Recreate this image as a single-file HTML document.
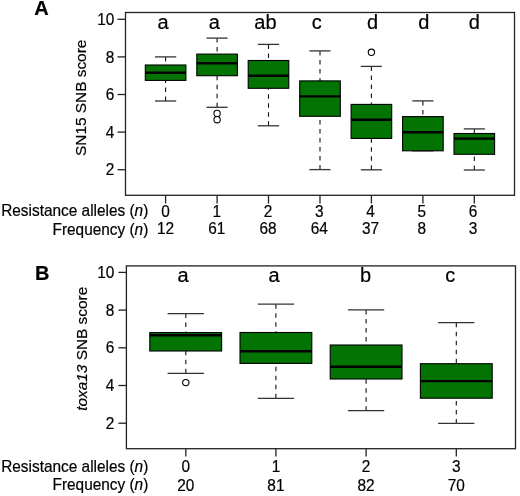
<!DOCTYPE html>
<html><head><meta charset="utf-8"><title>Boxplots</title>
<style>html,body{margin:0;padding:0;background:#fff;width:520px;height:496px;overflow:hidden}svg{display:block;will-change:transform}</style>
</head><body>
<svg width="520" height="496" viewBox="0 0 520 496">
<style>
text{font-family:"Liberation Sans",sans-serif;fill:#000;stroke:#000;stroke-width:0.2px}
.tl{font-size:16.0px}
.lt{font-size:20px}
.yl{font-size:15.4px}
.pl{font-size:20px;font-weight:bold}
.ax{stroke:#222;stroke-width:1.3;fill:none}
.wh{stroke:#111;stroke-width:1.1;stroke-dasharray:4.5 4.5;fill:none}
.cap{stroke:#333;stroke-width:1.3;fill:none}
.bx{fill:#037403;stroke:#000;stroke-width:1.1}
.md{stroke:#000;stroke-width:2.4}
.ol{fill:none;stroke:#000;stroke-width:1.1}
</style>
<rect width="520" height="496" fill="#fff"/>
<text x="34.2" y="15" class="pl">A</text>
<line x1="165.6" y1="56.9" x2="165.6" y2="65.0" class="wh"/>
<line x1="165.6" y1="101.0" x2="165.6" y2="80.4" class="wh"/>
<line x1="155.0" y1="56.9" x2="176.2" y2="56.9" class="cap"/>
<line x1="155.0" y1="101.0" x2="176.2" y2="101.0" class="cap"/>
<rect x="145.3" y="65.0" width="40.6" height="15.4" class="bx"/>
<line x1="145.3" y1="72.8" x2="185.9" y2="72.8" class="md"/>
<line x1="217.1" y1="38.1" x2="217.1" y2="54.1" class="wh"/>
<line x1="217.1" y1="107.3" x2="217.1" y2="75.7" class="wh"/>
<line x1="206.5" y1="38.1" x2="227.6" y2="38.1" class="cap"/>
<line x1="206.5" y1="107.3" x2="227.6" y2="107.3" class="cap"/>
<rect x="196.8" y="54.1" width="40.6" height="21.6" class="bx"/>
<line x1="196.8" y1="63.2" x2="237.4" y2="63.2" class="md"/>
<circle cx="217.1" cy="113.4" r="3.15" class="ol"/>
<circle cx="217.1" cy="119.7" r="3.15" class="ol"/>
<line x1="268.5" y1="44.4" x2="268.5" y2="60.5" class="wh"/>
<line x1="268.5" y1="125.8" x2="268.5" y2="88.3" class="wh"/>
<line x1="257.9" y1="44.4" x2="279.1" y2="44.4" class="cap"/>
<line x1="257.9" y1="125.8" x2="279.1" y2="125.8" class="cap"/>
<rect x="248.2" y="60.5" width="40.6" height="27.8" class="bx"/>
<line x1="248.2" y1="75.8" x2="288.8" y2="75.8" class="md"/>
<line x1="320.0" y1="50.9" x2="320.0" y2="80.9" class="wh"/>
<line x1="320.0" y1="169.6" x2="320.0" y2="116.3" class="wh"/>
<line x1="309.4" y1="50.9" x2="330.5" y2="50.9" class="cap"/>
<line x1="309.4" y1="169.6" x2="330.5" y2="169.6" class="cap"/>
<rect x="299.7" y="80.9" width="40.6" height="35.4" class="bx"/>
<line x1="299.7" y1="96.4" x2="340.3" y2="96.4" class="md"/>
<line x1="371.4" y1="66.4" x2="371.4" y2="104.4" class="wh"/>
<line x1="371.4" y1="169.8" x2="371.4" y2="138.4" class="wh"/>
<line x1="360.8" y1="66.4" x2="381.9" y2="66.4" class="cap"/>
<line x1="360.8" y1="169.8" x2="381.9" y2="169.8" class="cap"/>
<rect x="351.1" y="104.4" width="40.6" height="34.0" class="bx"/>
<line x1="351.1" y1="119.7" x2="391.7" y2="119.7" class="md"/>
<circle cx="371.4" cy="52.3" r="3.15" class="ol"/>
<line x1="422.9" y1="100.9" x2="422.9" y2="116.6" class="wh"/>
<line x1="412.3" y1="100.9" x2="433.4" y2="100.9" class="cap"/>
<line x1="412.3" y1="150.8" x2="433.4" y2="150.8" class="cap"/>
<rect x="402.6" y="116.6" width="40.6" height="34.2" class="bx"/>
<line x1="402.6" y1="132.3" x2="443.2" y2="132.3" class="md"/>
<line x1="474.3" y1="128.9" x2="474.3" y2="133.5" class="wh"/>
<line x1="474.3" y1="170.0" x2="474.3" y2="154.3" class="wh"/>
<line x1="463.8" y1="128.9" x2="484.9" y2="128.9" class="cap"/>
<line x1="463.8" y1="170.0" x2="484.9" y2="170.0" class="cap"/>
<rect x="454.0" y="133.5" width="40.6" height="20.8" class="bx"/>
<line x1="454.0" y1="138.6" x2="494.6" y2="138.6" class="md"/>
<rect x="125.5" y="12.5" width="389" height="182.8" class="ax"/>
<line x1="117.5" y1="169.7" x2="125.5" y2="169.7" class="ax"/>
<text transform="translate(114.30,175.30) scale(0.9625,1)" class="tl" text-anchor="end">2</text>
<line x1="117.5" y1="132.1" x2="125.5" y2="132.1" class="ax"/>
<text transform="translate(114.30,137.70) scale(0.9625,1)" class="tl" text-anchor="end">4</text>
<line x1="117.5" y1="94.5" x2="125.5" y2="94.5" class="ax"/>
<text transform="translate(114.30,100.10) scale(0.9625,1)" class="tl" text-anchor="end">6</text>
<line x1="117.5" y1="56.9" x2="125.5" y2="56.9" class="ax"/>
<text transform="translate(114.30,62.50) scale(0.9625,1)" class="tl" text-anchor="end">8</text>
<line x1="117.5" y1="19.3" x2="125.5" y2="19.3" class="ax"/>
<text transform="translate(114.30,24.90) scale(0.9625,1)" class="tl" text-anchor="end">10</text>
<line x1="165.6" y1="195.3" x2="165.6" y2="203.5" class="ax"/>
<text transform="translate(165.60,216.70) scale(0.9625,1)" class="tl" text-anchor="middle">0</text>
<text transform="translate(165.60,234.40) scale(0.9625,1)" class="tl" text-anchor="middle">12</text>
<line x1="217.1" y1="195.3" x2="217.1" y2="203.5" class="ax"/>
<text transform="translate(216.84,216.70) scale(0.9625,1)" class="tl" text-anchor="middle">1</text>
<text transform="translate(216.84,234.40) scale(0.9625,1)" class="tl" text-anchor="middle">61</text>
<line x1="268.5" y1="195.3" x2="268.5" y2="203.5" class="ax"/>
<text transform="translate(268.08,216.70) scale(0.9625,1)" class="tl" text-anchor="middle">2</text>
<text transform="translate(268.08,234.40) scale(0.9625,1)" class="tl" text-anchor="middle">68</text>
<line x1="320.0" y1="195.3" x2="320.0" y2="203.5" class="ax"/>
<text transform="translate(319.32,216.70) scale(0.9625,1)" class="tl" text-anchor="middle">3</text>
<text transform="translate(319.32,234.40) scale(0.9625,1)" class="tl" text-anchor="middle">64</text>
<line x1="371.4" y1="195.3" x2="371.4" y2="203.5" class="ax"/>
<text transform="translate(370.56,216.70) scale(0.9625,1)" class="tl" text-anchor="middle">4</text>
<text transform="translate(370.56,234.40) scale(0.9625,1)" class="tl" text-anchor="middle">37</text>
<line x1="422.9" y1="195.3" x2="422.9" y2="203.5" class="ax"/>
<text transform="translate(421.80,216.70) scale(0.9625,1)" class="tl" text-anchor="middle">5</text>
<text transform="translate(421.80,234.40) scale(0.9625,1)" class="tl" text-anchor="middle">8</text>
<line x1="474.3" y1="195.3" x2="474.3" y2="203.5" class="ax"/>
<text transform="translate(473.04,216.70) scale(0.9625,1)" class="tl" text-anchor="middle">6</text>
<text transform="translate(473.04,234.40) scale(0.9625,1)" class="tl" text-anchor="middle">3</text>
<text x="163.1" y="28.5" class="lt" text-anchor="middle">a</text>
<text x="214.2" y="28.5" class="lt" text-anchor="middle">a</text>
<text x="265.4" y="28.5" class="lt" text-anchor="middle">ab</text>
<text x="316.7" y="28.5" class="lt" text-anchor="middle">c</text>
<text x="372.5" y="28.5" class="lt" text-anchor="middle">d</text>
<text x="423.7" y="28.5" class="lt" text-anchor="middle">d</text>
<text x="474.4" y="28.5" class="lt" text-anchor="middle">d</text>
<text transform="translate(148.30,215.70) scale(0.9625,1)" class="tl" text-anchor="end">Resistance alleles (<tspan font-style="italic">n</tspan>)</text>
<text transform="translate(148.30,234.50) scale(0.9625,1)" class="tl" text-anchor="end">Frequency (<tspan font-style="italic">n</tspan>)</text>
<text transform="translate(86.30,97.80) rotate(-90)" class="yl" text-anchor="middle">SN15 SNB score</text>
<text x="35" y="280.2" class="pl">B</text>
<line x1="185.8" y1="313.6" x2="185.8" y2="332.6" class="wh"/>
<line x1="185.8" y1="373.3" x2="185.8" y2="351.0" class="wh"/>
<line x1="167.6" y1="313.6" x2="203.9" y2="313.6" class="cap"/>
<line x1="167.6" y1="373.3" x2="203.9" y2="373.3" class="cap"/>
<rect x="149.8" y="332.6" width="71.8" height="18.4" class="bx"/>
<line x1="149.8" y1="335.2" x2="221.7" y2="335.2" class="md"/>
<circle cx="185.8" cy="382.6" r="3.15" class="ol"/>
<line x1="275.9" y1="304.2" x2="275.9" y2="332.5" class="wh"/>
<line x1="275.9" y1="398.3" x2="275.9" y2="363.4" class="wh"/>
<line x1="257.8" y1="304.2" x2="294.1" y2="304.2" class="cap"/>
<line x1="257.8" y1="398.3" x2="294.1" y2="398.3" class="cap"/>
<rect x="240.0" y="332.5" width="71.8" height="30.9" class="bx"/>
<line x1="240.0" y1="351.2" x2="311.8" y2="351.2" class="md"/>
<line x1="366.1" y1="309.9" x2="366.1" y2="345.0" class="wh"/>
<line x1="366.1" y1="410.7" x2="366.1" y2="379.0" class="wh"/>
<line x1="347.9" y1="309.9" x2="384.2" y2="309.9" class="cap"/>
<line x1="347.9" y1="410.7" x2="384.2" y2="410.7" class="cap"/>
<rect x="330.2" y="345.0" width="71.8" height="34.0" class="bx"/>
<line x1="330.2" y1="366.7" x2="402.0" y2="366.7" class="md"/>
<line x1="456.3" y1="322.7" x2="456.3" y2="363.7" class="wh"/>
<line x1="456.3" y1="423.4" x2="456.3" y2="398.2" class="wh"/>
<line x1="438.1" y1="322.7" x2="474.4" y2="322.7" class="cap"/>
<line x1="438.1" y1="423.4" x2="474.4" y2="423.4" class="cap"/>
<rect x="420.4" y="363.7" width="71.8" height="34.5" class="bx"/>
<line x1="420.4" y1="381.1" x2="492.2" y2="381.1" class="md"/>
<rect x="126.4" y="265.9" width="389.1" height="182.8" class="ax"/>
<line x1="118.4" y1="423.2" x2="126.4" y2="423.2" class="ax"/>
<text transform="translate(114.30,428.80) scale(0.9625,1)" class="tl" text-anchor="end">2</text>
<line x1="118.4" y1="385.5" x2="126.4" y2="385.5" class="ax"/>
<text transform="translate(114.30,391.10) scale(0.9625,1)" class="tl" text-anchor="end">4</text>
<line x1="118.4" y1="347.8" x2="126.4" y2="347.8" class="ax"/>
<text transform="translate(114.30,353.40) scale(0.9625,1)" class="tl" text-anchor="end">6</text>
<line x1="118.4" y1="310.1" x2="126.4" y2="310.1" class="ax"/>
<text transform="translate(114.30,315.70) scale(0.9625,1)" class="tl" text-anchor="end">8</text>
<line x1="118.4" y1="272.4" x2="126.4" y2="272.4" class="ax"/>
<text transform="translate(114.30,278.00) scale(0.9625,1)" class="tl" text-anchor="end">10</text>
<line x1="185.8" y1="448.7" x2="185.8" y2="456.5" class="ax"/>
<text transform="translate(185.75,472.10) scale(0.9625,1)" class="tl" text-anchor="middle">0</text>
<text transform="translate(185.75,490.80) scale(0.9625,1)" class="tl" text-anchor="middle">20</text>
<line x1="275.9" y1="448.7" x2="275.9" y2="456.5" class="ax"/>
<text transform="translate(275.92,472.10) scale(0.9625,1)" class="tl" text-anchor="middle">1</text>
<text transform="translate(275.92,490.80) scale(0.9625,1)" class="tl" text-anchor="middle">81</text>
<line x1="366.1" y1="448.7" x2="366.1" y2="456.5" class="ax"/>
<text transform="translate(366.09,472.10) scale(0.9625,1)" class="tl" text-anchor="middle">2</text>
<text transform="translate(366.09,490.80) scale(0.9625,1)" class="tl" text-anchor="middle">82</text>
<line x1="456.3" y1="448.7" x2="456.3" y2="456.5" class="ax"/>
<text transform="translate(456.26,472.10) scale(0.9625,1)" class="tl" text-anchor="middle">3</text>
<text transform="translate(456.26,490.80) scale(0.9625,1)" class="tl" text-anchor="middle">70</text>
<text x="183.0" y="282.2" class="lt" text-anchor="middle">a</text>
<text x="274.0" y="282.2" class="lt" text-anchor="middle">a</text>
<text x="365.5" y="282.2" class="lt" text-anchor="middle">b</text>
<text x="450.3" y="282.2" class="lt" text-anchor="middle">c</text>
<text transform="translate(148.30,471.80) scale(0.9625,1)" class="tl" text-anchor="end">Resistance alleles (<tspan font-style="italic">n</tspan>)</text>
<text transform="translate(148.30,490.40) scale(0.9625,1)" class="tl" text-anchor="end">Frequency (<tspan font-style="italic">n</tspan>)</text>
<text transform="translate(86.60,348.80) rotate(-90)" class="yl" text-anchor="middle"><tspan font-style="italic">toxa13</tspan> SNB score</text>
</svg>
</body></html>
